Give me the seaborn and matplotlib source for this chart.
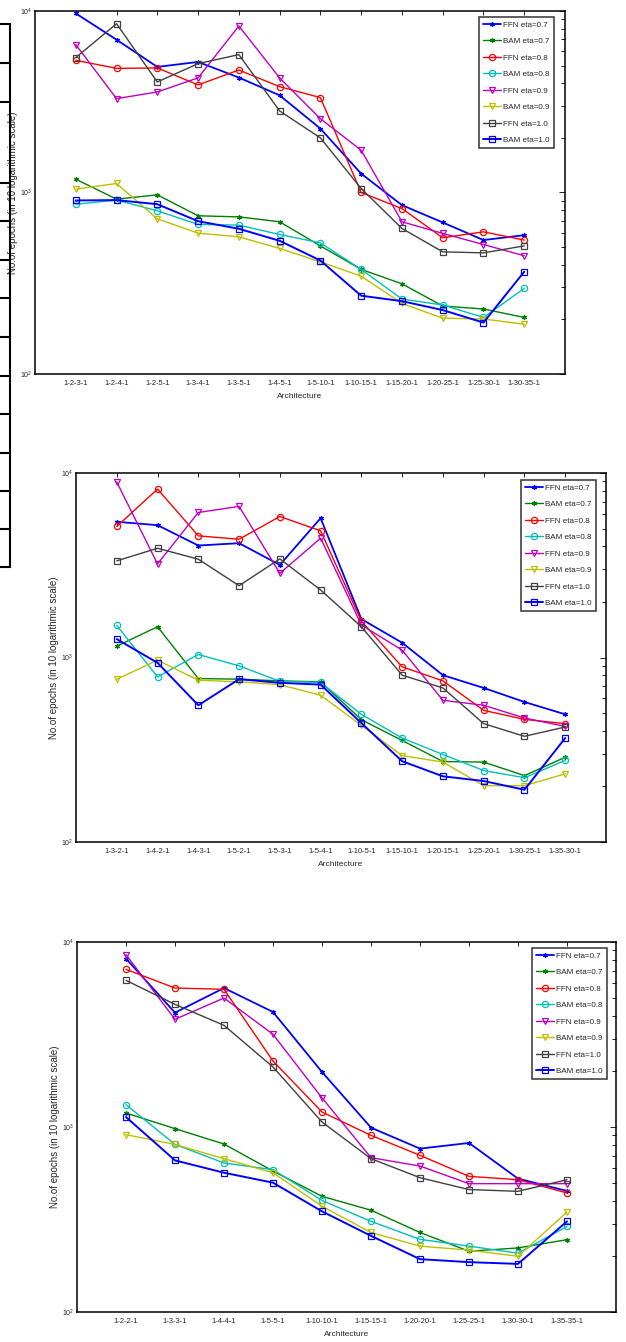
import numpy as np
import pandas as pd
import seaborn as sns
import matplotlib.pyplot as plt
from matplotlib.lines import Line2D
from matplotlib.ticker import LogLocator, NullFormatter

# ---- data ----
SERIES = ["FFN eta=0.7", "BAM eta=0.7", "FFN eta=0.8", "BAM eta=0.8",
          "FFN eta=0.9", "BAM eta=0.9", "FFN eta=1.0", "BAM eta=1.0"]

# panel 1
ARCH_A = ["1-2-3-1", "1-2-4-1", "1-2-5-1", "1-3-4-1", "1-3-5-1", "1-4-5-1",
          "1-5-10-1", "1-10-15-1", "1-15-20-1", "1-20-25-1", "1-25-30-1", "1-30-35-1"]
A_FFN_07 = [9700, 6950, 4920, 5240, 4300, 3430, 2250, 1270, 852, 684, 547, 582]
A_BAM_07 = [1184, 919, 971, 744, 734, 690, 508, 377, 314, 237, 228, 205]
A_FFN_08 = [5350, 4830, 4855, 3915, 4730, 3830, 3333, 1000, 816, 563, 607, 547]
A_BAM_08 = [862, 908, 793, 667, 661, 587, 528, 377, 259, 240, 205, 296]
A_FFN_09 = [6530, 3290, 3580, 4280, 8270, 4280, 2550, 1710, 690, 595, 517, 448]
A_BAM_09 = [1043, 1121, 716, 597, 570, 492, 415, 346, 245, 203, 201, 188]
A_FFN_10 = [5535, 8510, 4065, 5130, 5750, 2815, 2000, 1052, 634, 471, 465, 508]
A_BAM_10 = [904, 908, 862, 695, 631, 542, 422, 270, 252, 225, 192, 366]

# panel 2
ARCH_B = ["1-3-2-1", "1-4-2-1", "1-4-3-1", "1-5-2-1", "1-5-3-1", "1-5-4-1",
          "1-10-5-1", "1-15-10-1", "1-20-15-1", "1-25-20-1", "1-30-25-1", "1-35-30-1"]
B_FFN_07 = [5440, 5215, 4045, 4165, 3175, 5690, 1616, 1202, 802, 684, 574, 492]
B_BAM_07 = [1152, 1468, 769, 763, 747, 738, 460, 355, 273, 271, 229, 288]
B_FFN_08 = [5130, 8185, 4565, 4375, 5810, 4860, 1575, 890, 747, 517, 462, 438]
B_BAM_08 = [1493, 785, 1038, 901, 743, 732, 492, 366, 298, 244, 223, 277]
B_FFN_09 = [8935, 3215, 6110, 6590, 2860, 4435, 1500, 1096, 586, 551, 470, 423]
B_BAM_09 = [763, 967, 753, 738, 713, 624, 429, 294, 271, 202, 202, 234]
B_FFN_10 = [3340, 3910, 3410, 2450, 3425, 2323, 1468, 802, 684, 438, 374, 420]
B_BAM_10 = [1258, 936, 551, 763, 729, 713, 441, 274, 227, 214, 192, 366]

# panel 3
ARCH_C = ["1-2-2-1", "1-3-3-1", "1-4-4-1", "1-5-5-1", "1-10-10-1",
          "1-15-15-1", "1-20-20-1", "1-25-25-1", "1-30-30-1", "1-35-35-1"]
C_FFN_07 = [8130, 4150, 5640, 4185, 1983, 992, 764, 820, 526, 451]
C_BAM_07 = [1190, 980, 809, 578, 422, 355, 269, 213, 222, 246]
C_FFN_08 = [7115, 5640, 5550, 2273, 1205, 901, 703, 541, 519, 440]
C_BAM_08 = [1320, 805, 639, 588, 401, 309, 247, 227, 208, 290]
C_FFN_09 = [8545, 3820, 4980, 3170, 1437, 683, 615, 494, 494, 494]
C_BAM_09 = [909, 805, 674, 566, 373, 269, 227, 216, 200, 347]
C_FFN_10 = [6205, 4600, 3545, 2110, 1064, 674, 532, 459, 449, 519]
C_BAM_10 = [1132, 660, 566, 500, 350, 258, 193, 186, 182, 309]

# matlab-ish line styles
ASTERISK = (6, 2, 0)
STYLES = {
    "FFN eta=0.7": ("#0000ff", ASTERISK, 3.5, 1.3),
    "BAM eta=0.7": ("#008000", ASTERISK, 3.5, 1.0),
    "FFN eta=0.8": ("#ff0000", "o", 4.5, 1.0),
    "BAM eta=0.8": ("#00bfbf", "o", 4.5, 1.0),
    "FFN eta=0.9": ("#bf00bf", "v", 5.0, 1.0),
    "BAM eta=0.9": ("#bfbf00", "v", 5.0, 1.0),
    "FFN eta=1.0": ("#404040", "s", 4.5, 1.0),
    "BAM eta=1.0": ("#0000ff", "s", 4.5, 1.4),
}

NARROW = ["Liberation Sans Narrow", "Liberation Sans", "DejaVu Sans"]
REGULAR = ["Liberation Sans", "DejaVu Sans"]

W, H = 626, 1342


def long_frame(arch, values):
    rows = []
    for name, vals in zip(SERIES, values):
        for i, (a, v) in enumerate(zip(arch, vals)):
            rows.append({"series": name, "pos": i + 1, "arch": a, "epochs": v})
    return pd.DataFrame(rows)


def draw_panel(fig, rect_px, arch, values, legend_px):
    left, top, right, bottom = rect_px
    ax = fig.add_axes([left / W, 1 - bottom / H, (right - left) / W, (bottom - top) / H])
    df = long_frame(arch, values)
    for name in SERIES:
        color, marker, ms, lw = STYLES[name]
        sub = df[df["series"] == name]
        sns.lineplot(data=sub, x="pos", y="epochs", ax=ax, color=color,
                     marker=marker, markersize=ms, markerfacecolor="none",
                     markeredgecolor=color, markeredgewidth=0.9, linewidth=lw,
                     label=name, sort=False)
    n = len(arch)
    ax.set_yscale("log")
    ax.set_ylim(100, 10000)
    ax.set_xlim(0, n + 1)
    ax.set_xticks(np.arange(1, n + 1))
    ax.set_xticklabels(arch, family=NARROW, fontsize=5.5)
    ax.yaxis.set_major_locator(LogLocator(base=10))
    ax.yaxis.set_minor_locator(LogLocator(base=10, subs=np.arange(2, 10)))
    ax.yaxis.set_minor_formatter(NullFormatter())
    ax.tick_params(axis="both", which="both", direction="in", top=True, right=True,
                   width=0.6, color="black")
    ax.tick_params(axis="x", length=3, pad=4)
    ax.tick_params(axis="y", which="major", length=4, labelsize=5, pad=2)
    ax.tick_params(axis="y", which="minor", length=3)
    for lab in ax.get_yticklabels():
        lab.set_family(REGULAR)
    for sp in ax.spines.values():
        sp.set_color("black")
        sp.set_linewidth(1.1)
    ax.grid(False)
    ax.set_facecolor("white")

    ax.set_xlabel("Architecture", family=NARROW, fontsize=6)
    ax.xaxis.set_label_coords(0.5, -19 / (bottom - top))
    ax.set_ylabel("No.of epochs (in 10 logarithmic scale)", family=REGULAR, fontsize=7)
    ax.yaxis.set_label_coords(-17 / (right - left), 0.5)

    lx, ly = legend_px
    leg = ax.legend(loc="upper right",
                    bbox_to_anchor=(1 - lx / (right - left), 1 - ly / (bottom - top)),
                    borderaxespad=0, frameon=True, fancybox=False,
                    prop={"family": NARROW, "size": 5.8}, handlelength=2.3,
                    handletextpad=0.25, labelspacing=1.1, borderpad=0.5)
    leg.get_frame().set_edgecolor("black")
    leg.get_frame().set_linewidth(1.1)
    return ax


def main() -> None:
    sns.set_theme(style="white")
    plt.rcParams["font.family"] = REGULAR
    plt.rcParams["mathtext.fontset"] = "custom"
    plt.rcParams["mathtext.rm"] = "Liberation Sans"

    fig = plt.figure(figsize=(W / 100, H / 100), dpi=100)
    fig.patch.set_facecolor("white")

    draw_panel(fig, (35, 11, 565, 374), ARCH_A,
               [A_FFN_07, A_BAM_07, A_FFN_08, A_BAM_08, A_FFN_09, A_BAM_09, A_FFN_10, A_BAM_10],
               (11, 6))
    draw_panel(fig, (76, 473, 606, 842), ARCH_B,
               [B_FFN_07, B_BAM_07, B_FFN_08, B_BAM_08, B_FFN_09, B_BAM_09, B_FFN_10, B_BAM_10],
               (10, 7))
    draw_panel(fig, (77, 942, 616, 1312), ARCH_C,
               [C_FFN_07, C_BAM_07, C_FFN_08, C_BAM_08, C_FFN_09, C_BAM_09, C_FFN_10, C_BAM_10],
               (9, 6))

    # fragment of a neighbouring table at the left page edge
    rows_y = [24, 63, 102, 183, 221, 260, 298, 337, 376, 414, 453, 491, 529, 567]
    fig.add_artist(Line2D([9.5 / W, 9.5 / W], [1 - 24 / H, 1 - 567 / H],
                          color="black", linewidth=1.5, transform=fig.transFigure))
    for y in rows_y:
        fig.add_artist(Line2D([0, 9.5 / W], [1 - y / H, 1 - y / H],
                              color="black", linewidth=1.5, transform=fig.transFigure))

    fig.savefig("out.png", dpi=100)


if __name__ == "__main__":
    main()
